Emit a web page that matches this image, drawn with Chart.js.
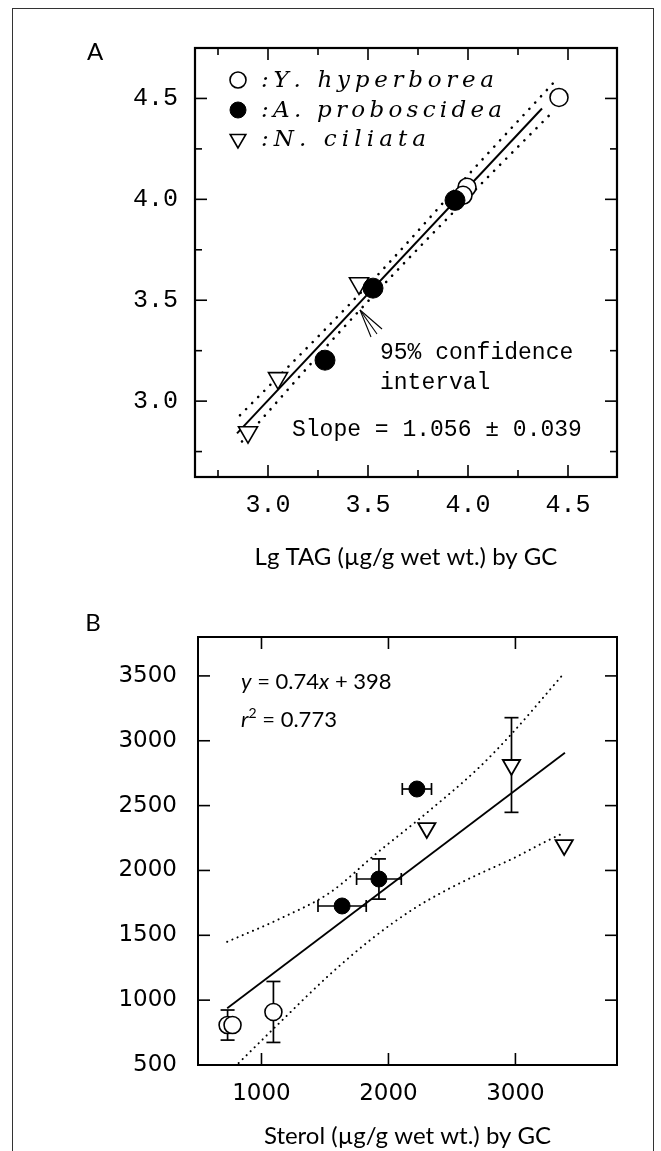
<!DOCTYPE html>
<html>
<head>
<meta charset="utf-8">
<script src="https://cdn.jsdelivr.net/npm/chart.js@4.4.0/dist/chart.umd.min.js"></script>
<style>
  body { margin: 0; background: #fff; width: 661px; height: 1151px; overflow: hidden; position: relative; }
  #frame { position: absolute; left: 12px; top: 8px; width: 640px; height: 1200px; border: 1.6px solid #333; }
  canvas { position: absolute; left: 0; }
  #chartA { top: 0; }
  #chartB { top: 580px; }
</style>
</head>
<body>
<div id="frame"></div>
<canvas id="chartA" width="661" height="580"></canvas>
<canvas id="chartB" width="661" height="572"></canvas>
<script>
'use strict';

// ---- panel A : lg values ----
const speciesNames = ['Y. hyperborea', 'A. proboscidea', 'N. ciliata'];
const hyperboreaX_A = [4.455, 3.995, 3.975];
const hyperboreaY_A = [4.505, 4.06, 4.02];
const proboscideaX_A = [3.935, 3.525, 3.285];
const proboscideaY_A = [3.995, 3.56, 3.203];
const ciliataX_A = [3.455, 3.05, 2.90];
const ciliataY_A = [3.584, 3.114, 2.846];
const fitX_A = [2.845, 4.37];
const fitY_A = [2.84, 4.45];
const upperX_A = [2.86, 3.3, 3.6, 4.0, 4.43];
const upperY_A = [2.93, 3.37, 3.68, 4.12, 4.58];
const lowerX_A = [2.87, 3.3, 3.6, 4.0, 4.43];
const lowerY_A = [2.80, 3.28, 3.60, 4.01, 4.44];
const majorTicksA = [3.0, 3.5, 4.0, 4.5];
const minorTicksA = [2.75, 3.25, 3.75, 4.25];
const tickLabelsA = ['3.0', '3.5', '4.0', '4.5'];

// ---- panel B : sterol ----
const hyperboreaX_B = [733, 772, 1094];
const hyperboreaY_B = [808, 808, 909];
const hyperboreaXErr_B = [0, 0, 0];
const hyperboreaYErr_B = [116, 0, 235];
const proboscideaX_B = [1635, 1925, 2224];
const proboscideaY_B = [1726, 1934, 2628];
const proboscideaXErr_B = [190, 176, 115];
const proboscideaYErr_B = [0, 155, 0];
const ciliataX_B = [2302, 2969, 3384];
const ciliataY_B = [2327, 2813, 2196];
const ciliataXErr_B = [0, 0, 0];
const ciliataYErr_B = [0, 365, 0];
const fitX_B = [730, 3390];
const fitY_B = [938, 2907];
const upperX_B = [730, 1150, 1540, 1910, 2300, 2718, 2976, 3384];
const upperY_B = [1450, 1630, 1830, 2135, 2443, 2798, 3060, 3522];
const lowerX_B = [820, 1165, 1541, 1878, 2192, 2459, 2718, 2976, 3243, 3370];
const lowerY_B = [515, 847, 1200, 1480, 1700, 1850, 1975, 2090, 2225, 2285];
const xTicksB = [1000, 2000, 3000];
const yTicksB = [500, 1000, 1500, 2000, 2500, 3000, 3500];

function pts(xs, ys) {
    return xs.map((x, i) => ({ x: x, y: ys[i] }));
}

function line(ctx, x1, y1, x2, y2) {
    ctx.beginPath();
    ctx.moveTo(x1, y1);
    ctx.lineTo(x2, y2);
    ctx.stroke();
}

// draws text char by char so it spans from x to endX
function drawSpaced(ctx, text, x, y, endX) {
    const chars = Array.from(text);
    let w = 0;
    chars.forEach(c => w += ctx.measureText(c).width);
    const sp = chars.length > 1 ? (endX - x - w) / (chars.length - 1) : 0;
    chars.forEach(c => {
        ctx.fillText(c, x, y);
        x += ctx.measureText(c).width + sp;
    });
}

function makeDecor(cfg) {
    return {
        id: 'decor',
        beforeDatasetsDraw(chart) {
            const ctx = chart.ctx;
            const xs = chart.scales.x, ys = chart.scales.y;
            ctx.save();
            ctx.strokeStyle = '#000';
            ctx.lineWidth = 1.7;
            (cfg.errors || []).forEach(e => {
                const ds = chart.data.datasets[e.ds];
                ds.data.forEach((p, j) => {
                    const px = xs.getPixelForValue(p.x), py = ys.getPixelForValue(p.y);
                    if (e.yErr[j] > 0) {
                        const t = ys.getPixelForValue(p.y + e.yErr[j]);
                        const b = ys.getPixelForValue(p.y - e.yErr[j]);
                        line(ctx, px, t, px, b);
                        line(ctx, px - 7, t, px + 7, t);
                        line(ctx, px - 7, b, px + 7, b);
                    }
                    if (e.xErr[j] > 0) {
                        const l = xs.getPixelForValue(p.x - e.xErr[j]);
                        const r = xs.getPixelForValue(p.x + e.xErr[j]);
                        line(ctx, l, py, r, py);
                        line(ctx, l, py - 6, l, py + 6);
                        line(ctx, r, py - 6, r, py + 6);
                    }
                });
            });
            ctx.restore();
        },
        afterDatasetsDraw(chart) {
            const ctx = chart.ctx;
            const a = chart.chartArea;
            const xs = chart.scales.x, ys = chart.scales.y;
            ctx.save();
            ctx.strokeStyle = '#000';
            ctx.lineWidth = cfg.frameWidth;
            ctx.strokeRect(a.left, a.top, a.right - a.left, a.bottom - a.top);
            ctx.lineWidth = 1.6;
            const ticks = (vx, vy, len) => {
                vx.forEach(v => {
                    const px = xs.getPixelForValue(v);
                    line(ctx, px, a.bottom, px, a.bottom - len);
                    line(ctx, px, a.top, px, a.top + len);
                });
                vy.forEach(v => {
                    const py = ys.getPixelForValue(v);
                    line(ctx, a.left, py, a.left + len, py);
                    line(ctx, a.right, py, a.right - len, py);
                });
            };
            ticks(cfg.majorX, cfg.majorY, 12);
            ticks(cfg.minorX || [], cfg.minorY || [], 7);
            ctx.fillStyle = '#000';
            cfg.extra(ctx, chart);
            ctx.restore();
        }
    };
}

function axisOptions(o) {
    return {
        type: 'linear',
        min: o.min,
        max: o.max,
        afterBuildTicks: s => { s.ticks = o.ticks.map(v => ({ value: v })); },
        afterFit: s => { if (o.width) s.width = o.width; if (o.height) s.height = o.height; },
        grid: { display: false, drawTicks: false },
        border: { display: false },
        ticks: {
            padding: o.pad,
            color: '#000',
            font: o.font,
            callback: o.labels ? (v, i) => o.labels[i] : (v => String(v))
        },
        title: o.title ? {
            display: true, text: o.title, color: '#000',
            font: { family: 'Lato', size: 24 },
            padding: { top: 0, bottom: o.titlePad }
        } : { display: false }
    };
}

const monoFont = { family: 'Liberation Mono', size: 25 };
const bandStyle = { showLine: true, borderColor: '#000', borderCapStyle: 'round', pointRadius: 0, cubicInterpolationMode: 'monotone' };

new Chart(document.getElementById('chartA'), {
    type: 'scatter',
    data: {
        datasets: [
            { label: speciesNames[1], data: pts(proboscideaX_A, proboscideaY_A), pointStyle: 'circle', pointRadius: 10,
              pointBackgroundColor: '#000', pointBorderColor: '#000', pointBorderWidth: 1 },
            { label: speciesNames[0], data: pts(hyperboreaX_A, hyperboreaY_A), pointStyle: 'circle', pointRadius: 9,
              pointBackgroundColor: '#fff', pointBorderColor: '#000', pointBorderWidth: 1.6 },
            { label: speciesNames[2], data: pts(ciliataX_A, ciliataY_A), pointStyle: 'triangle', pointRotation: 180, pointRadius: 11,
              pointBackgroundColor: '#fff', pointBorderColor: '#000', pointBorderWidth: 1.6 },
            { label: 'fit', data: pts(fitX_A, fitY_A), showLine: true, borderColor: '#000', borderWidth: 2, pointRadius: 0 },
            Object.assign({ label: 'upper', data: pts(upperX_A, upperY_A), borderWidth: 2.6, borderDash: [0.1, 8.5] }, bandStyle),
            Object.assign({ label: 'lower', data: pts(lowerX_A, lowerY_A), borderWidth: 2.6, borderDash: [0.1, 8.5] }, bandStyle)
        ]
    },
    options: {
        responsive: false,
        animation: false,
        devicePixelRatio: 1,
        layout: { padding: { left: 0, top: 48, right: 44, bottom: 0 } },
        plugins: { legend: { display: false }, tooltip: { enabled: false } },
        scales: {
            x: axisOptions({ min: 2.635, max: 4.745, ticks: majorTicksA, labels: tickLabelsA, height: 103, pad: 13,
                             font: monoFont, title: 'Lg TAG (\u00b5g/g wet wt.) by GC', titlePad: 8 }),
            y: axisOptions({ min: 2.624, max: 4.75, ticks: majorTicksA, labels: tickLabelsA, width: 195, pad: 17,
                             font: monoFont })
        }
    },
    plugins: [makeDecor({
        frameWidth: 2.2,
        majorX: majorTicksA, majorY: majorTicksA, minorX: minorTicksA, minorY: minorTicksA,
        extra(ctx, chart) {
            ctx.textBaseline = 'middle';
            ctx.font = '24px Lato';
            ctx.textAlign = 'center';
            ctx.fillText('A', 95, 52);
            ctx.textAlign = 'left';

            // legend
            const rows = [[1, 80, 494], [0, 110, 502], [2, 139, 426]];
            ctx.font = 'italic 23px "DejaVu Serif"';
            rows.forEach(([dsIdx, y, end]) => {
                const ds = chart.data.datasets[dsIdx];
                ctx.fillStyle = ds.pointBackgroundColor;
                ctx.strokeStyle = ds.pointBorderColor;
                ctx.lineWidth = ds.pointBorderWidth;
                Chart.helpers.drawPoint(ctx, {
                    pointStyle: ds.pointStyle, rotation: ds.pointRotation || 0,
                    radius: ds.pointStyle === 'triangle' ? 9 : 8, borderWidth: ds.pointBorderWidth
                }, 238, y);
                ctx.fillStyle = '#000';
                drawSpaced(ctx, ':' + ds.label, 261, y + 1, end);
            });

            ctx.font = '23px "Liberation Mono"';
            ctx.fillText('95% confidence', 380, 353);
            ctx.fillText('interval', 380, 383);
            ctx.fillText('Slope = 1.056 \u00b1 0.039', 292, 430);

            // arrow to the confidence band
            ctx.strokeStyle = '#000';
            ctx.lineWidth = 1.1;
            line(ctx, 360, 310, 382, 329);
            line(ctx, 360, 310, 371, 337);
            line(ctx, 360, 310, 377, 334);
        }
    })]
});

const sansTick = { family: 'DejaVu Sans', size: 23 };

new Chart(document.getElementById('chartB'), {
    type: 'scatter',
    data: {
        datasets: [
            { label: speciesNames[1], data: pts(proboscideaX_B, proboscideaY_B), pointStyle: 'circle', pointRadius: 8,
              pointBackgroundColor: '#000', pointBorderColor: '#000', pointBorderWidth: 1 },
            { label: speciesNames[0], data: pts(hyperboreaX_B, hyperboreaY_B), pointStyle: 'circle', pointRadius: 8.5,
              pointBackgroundColor: '#fff', pointBorderColor: '#000', pointBorderWidth: 1.6 },
            { label: speciesNames[2], data: pts(ciliataX_B, ciliataY_B), pointStyle: 'triangle', pointRotation: 180, pointRadius: 10,
              pointBackgroundColor: '#fff', pointBorderColor: '#000', pointBorderWidth: 1.8 },
            { label: 'fit', data: pts(fitX_B, fitY_B), showLine: true, borderColor: '#000', borderWidth: 1.8, pointRadius: 0 },
            Object.assign({ label: 'upper', data: pts(upperX_B, upperY_B), borderWidth: 2, borderDash: [0.1, 5.5] }, bandStyle),
            Object.assign({ label: 'lower', data: pts(lowerX_B, lowerY_B), borderWidth: 2, borderDash: [0.1, 5.5] }, bandStyle)
        ]
    },
    options: {
        responsive: false,
        animation: false,
        devicePixelRatio: 1,
        layout: { padding: { left: 0, top: 57, right: 44, bottom: 0 } },
        plugins: { legend: { display: false }, tooltip: { enabled: false } },
        scales: {
            x: axisOptions({ min: 500, max: 3800, ticks: xTicksB, height: 87, pad: 15,
                             font: sansTick, title: 'Sterol (\u00b5g/g wet wt.) by GC', titlePad: 1 }),
            y: axisOptions({ min: 500, max: 3800, ticks: yTicksB, width: 198, pad: 21, font: sansTick })
        }
    },
    plugins: [makeDecor({
        frameWidth: 2,
        majorX: xTicksB, majorY: yTicksB,
        errors: [
            { ds: 0, xErr: proboscideaXErr_B, yErr: proboscideaYErr_B },
            { ds: 1, xErr: hyperboreaXErr_B, yErr: hyperboreaYErr_B },
            { ds: 2, xErr: ciliataXErr_B, yErr: ciliataYErr_B }
        ],
        extra(ctx) {
            ctx.textBaseline = 'middle';
            ctx.textAlign = 'center';
            ctx.font = '24px Lato';
            ctx.fillText('B', 93, 43);
            ctx.textAlign = 'left';

            const parts = (items, x, y) => {
                items.forEach(([txt, font, dy]) => {
                    ctx.font = font;
                    ctx.fillText(txt, x, y + (dy || 0));
                    x += ctx.measureText(txt).width;
                });
            };
            parts([['y', 'italic 22px Lato'], [' = 0.74', '22px Lato'], ['x', 'italic 22px Lato'], [' + 398', '22px Lato']], 241, 102);
            parts([['r', 'italic 22px Lato'], ['2', '14px Lato', -7], [' = 0.773', '22px Lato']], 241, 140);
        }
    })]
});
</script>
</body>
</html>
